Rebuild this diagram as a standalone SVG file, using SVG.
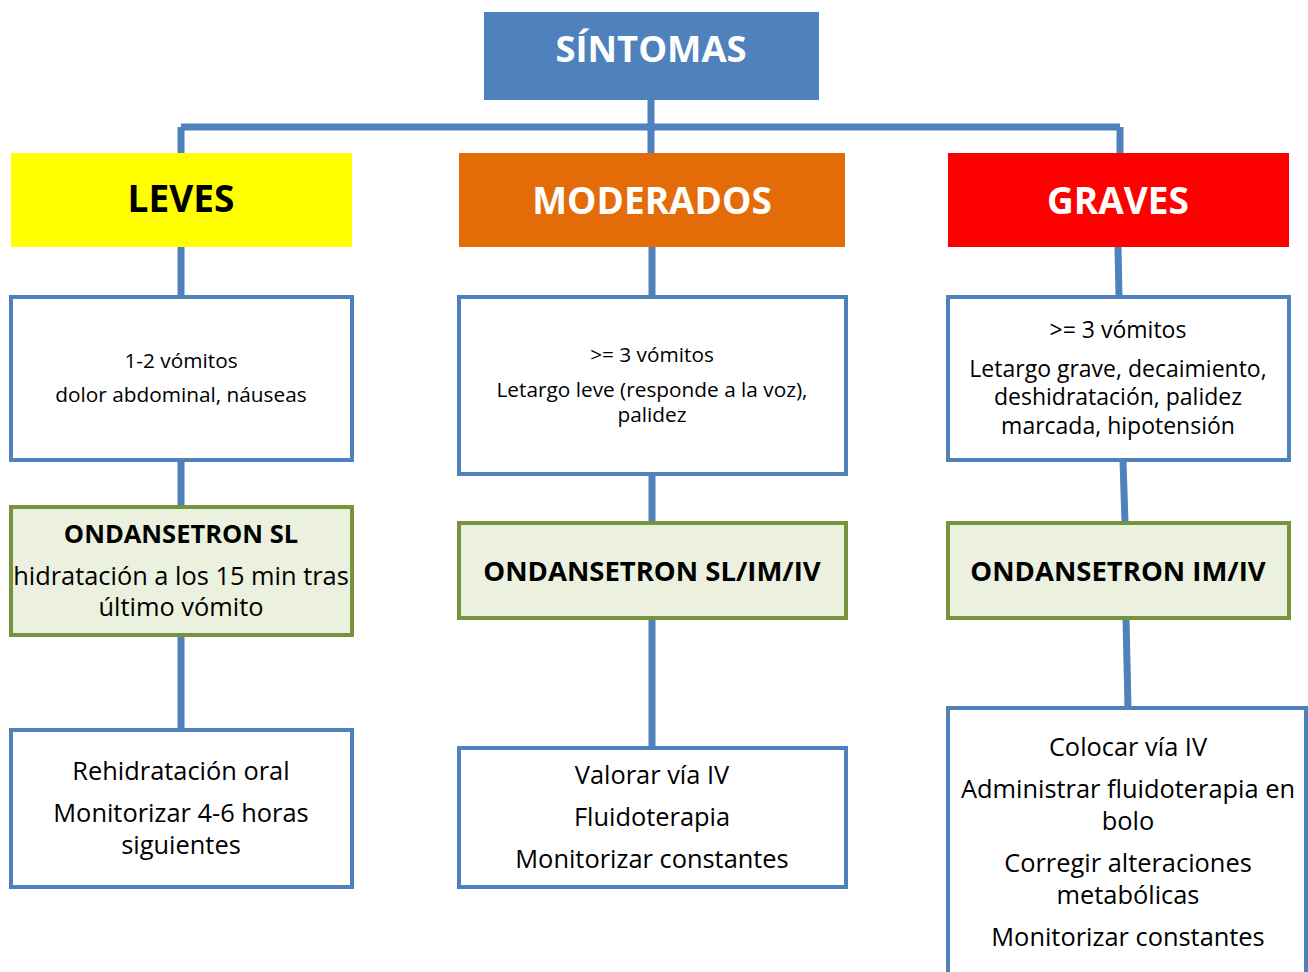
<svg xmlns="http://www.w3.org/2000/svg" width="1308" height="972" viewBox="0 0 1308 972">
<style>
text{font-family:"Open Sans","Noto Sans","DejaVu Sans",sans-serif;text-anchor:middle;fill:#000}
.hd{font-weight:bold;font-size:37px}
.w{fill:#fff}
.box{fill:#fff;stroke:#4F81BD;stroke-width:4}
.grn{fill:#EBF1DE;stroke:#77933C;stroke-width:4}
.s20{font-size:20.8px}
.s22{font-size:23px}
.s24{font-size:25.4px}
.b24{font-size:25.5px;font-weight:bold}
.b26{font-size:27.5px;font-weight:bold}
.c{stroke:#4F81BD;stroke-width:7;fill:none}
</style>
<rect width="1308" height="972" fill="#fff"/>
<g id="connectors">
<path class="c" d="M181 127H1120M651 100V153M181 127V153M1120 127V153"/>
<path class="c" d="M181 247V297M181 460V507M181 635V730"/>
<path class="c" d="M652 247V297M652 474V523M652 618V748"/>
<path class="c" d="M1118 247L1119 297M1123 460L1125 523M1126 618L1128 708"/>
</g>
<g id="sintomas"><rect x="484" y="12" width="335" height="88" fill="#4F81BD"/><text x="651" y="62" class="w" style="font-weight:bold;font-size:36.4px">SÍNTOMAS</text></g>
<g id="leves"><rect x="11" y="153" width="341" height="94" fill="#FFFF00"/><text x="181" y="212" class="hd">LEVES</text></g>
<g id="moderados"><rect x="459" y="153" width="386" height="94" fill="#E36C09"/><text x="652" y="214" class="hd w">MODERADOS</text></g>
<g id="graves"><rect x="948" y="153" width="341" height="94" fill="#FF0000"/><text x="1118" y="214" class="hd w">GRAVES</text></g>
<g id="leves-sintomas"><rect x="11" y="297" width="341" height="163" class="box"/>
<text x="181" y="368" class="s20">1-2 vómitos</text><text x="181" y="402" class="s20">dolor abdominal, náuseas</text></g>
<g id="leves-tratamiento"><rect x="11" y="507" width="341" height="128" class="grn"/>
<text x="181" y="543" class="b24">ONDANSETRON SL</text><text x="181" y="585" class="s24">hidratación a los 15 min tras</text><text x="181" y="616" class="s24">último vómito</text></g>
<g id="leves-accion"><rect x="11" y="730" width="341" height="157" class="box"/>
<text x="181" y="780" class="s24">Rehidratación oral</text><text x="181" y="822" class="s24">Monitorizar 4-6 horas</text><text x="181" y="854" class="s24">siguientes</text></g>
<g id="moderados-sintomas"><rect x="459" y="297" width="387" height="177" class="box"/>
<text x="652" y="362" class="s20">&gt;= 3 vómitos</text><text x="652" y="397" class="s20">Letargo leve (responde a la voz),</text><text x="652" y="422" class="s20">palidez</text></g>
<g id="moderados-tratamiento"><rect x="459" y="523" width="387" height="95" class="grn"/>
<text x="652" y="581" class="b26">ONDANSETRON SL/IM/IV</text></g>
<g id="moderados-accion"><rect x="459" y="748" width="387" height="139" class="box"/>
<text x="652" y="784" class="s24">Valorar vía IV</text><text x="652" y="826" class="s24">Fluidoterapia</text><text x="652" y="868" class="s24">Monitorizar constantes</text></g>
<g id="graves-sintomas"><rect x="948" y="297" width="341" height="163" class="box"/>
<text x="1118" y="338" class="s22">&gt;= 3 vómitos</text><text x="1118" y="377" class="s22">Letargo grave, decaimiento,</text><text x="1118" y="405" class="s22">deshidratación, palidez</text><text x="1118" y="434" class="s22">marcada, hipotensión</text></g>
<g id="graves-tratamiento"><rect x="948" y="523" width="341" height="95" class="grn"/>
<text x="1118" y="581" class="b26">ONDANSETRON IM/IV</text></g>
<g id="graves-accion"><rect x="948" y="708" width="358" height="290" class="box"/>
<text x="1128" y="756" class="s24">Colocar vía IV</text><text x="1128" y="798" class="s24">Administrar fluidoterapia en</text><text x="1128" y="830" class="s24">bolo</text><text x="1128" y="872" class="s24">Corregir alteraciones</text><text x="1128" y="904" class="s24">metabólicas</text><text x="1128" y="946" class="s24">Monitorizar constantes</text></g>
</svg>
